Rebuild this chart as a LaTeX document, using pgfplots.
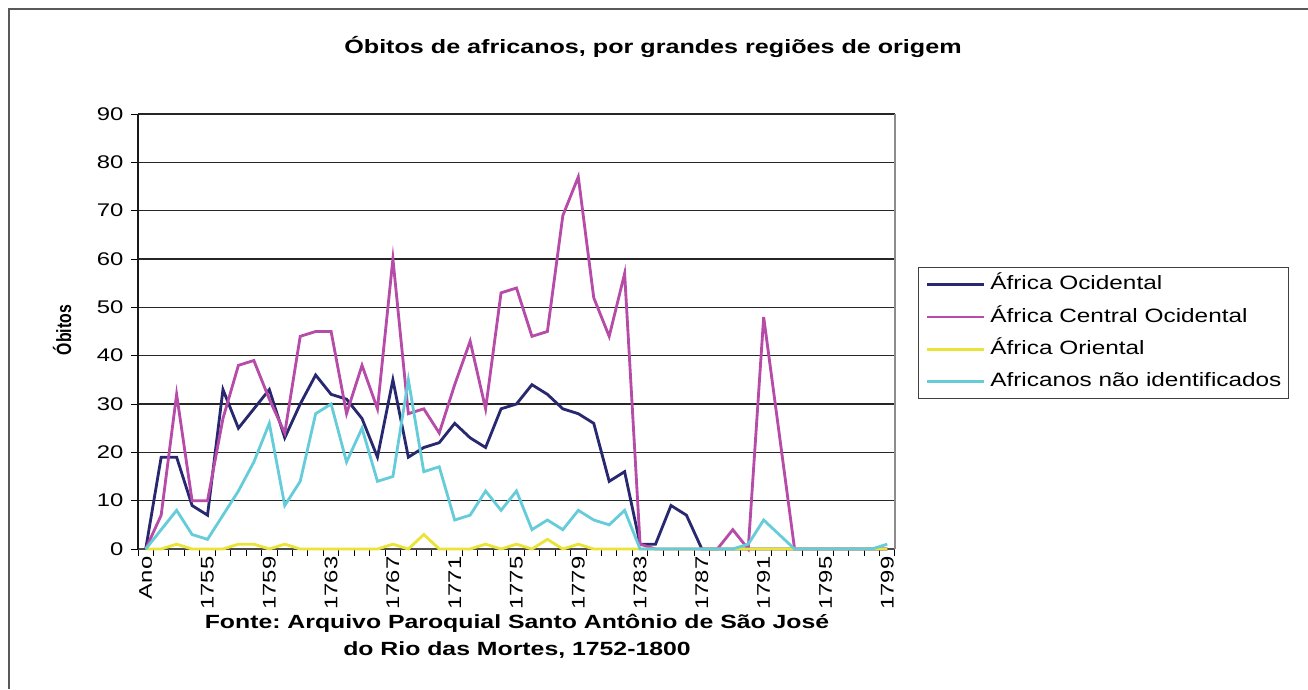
\documentclass[border=0pt]{standalone}
\usepackage{pgfplots}
\usepackage{pgfplotstable}
\pgfplotsset{compat=1.18}
\usepackage{fontspec}
\setmainfont{Liberation Sans}
\frenchspacing
\definecolor{cAO}{RGB}{40,40,112}
\definecolor{cACO}{RGB}{182,76,168}
\definecolor{cAOR}{RGB}{234,228,56}
\definecolor{cANI}{RGB}{102,204,218}
\pgfplotstableread{
i ao aco aor ani
0 0 0 0 0
1 19 7 0 4
2 19 32 1 8
3 9 10 0 3
4 7 10 0 2
5 33 27 0 7
6 25 38 1 12
7 29 39 1 18
8 33 31 0 26
9 23 24 1 9
10 30 44 0 14
11 36 45 0 28
12 32 45 0 30
13 31 28 0 18
14 27 38 0 25
15 19 29 0 14
16 35 60 1 15
17 19 28 0 35
18 21 29 3 16
19 22 24 0 17
20 26 34 0 6
21 23 43 0 7
22 21 29 1 12
23 29 53 0 8
24 30 54 1 12
25 34 44 0 4
26 32 45 2 6
27 29 69 0 4
28 28 77 1 8
29 26 52 0 6
30 14 44 0 5
31 16 57 0 8
32 1 1 0 0
33 1 0 0 0
34 9 0 0 0
35 7 0 0 0
36 0 0 0 0
37 0 0 0 0
38 0 4 0 0
39 0 0 0 1
40 0 48 0 6
41 0 24 0 3
42 0 0 0 0
43 0 0 0 0
44 0 0 0 0
45 0 0 0 0
46 0 0 0 0
47 0 0 0 0
48 0 0 0 1
}\obitos
\begin{document}
\begin{tikzpicture}
\useasboundingbox (0,0) rectangle (784.8pt,413.4pt);
\begin{axis}[
  at={(82.8pt,84pt)}, anchor=south west,
  scale only axis, width=454.2pt, height=261pt,
  xmin=-0.5, xmax=48.5, ymin=0, ymax=90,
  ytick={0,10,...,90},
  ymajorgrids, grid style={black!85, line width=0.7pt},
  xtick={-0.5,0.5,...,48.5}, xticklabels={},
  extra x ticks={0,4,...,48},
  extra x tick labels={Ano,1755,1759,1763,1767,1771,1775,1779,1783,1787,1791,1795,1799},
  extra x tick style={major tick length=0pt, grid=none},
  axis x line*=bottom, axis y line*=left,
  x axis line style={black!70, line width=1.6pt, -},
  y axis line style={black!90, line width=1.2pt, -},
  tick align=outside, major tick length=4.2pt,
  tick style={black, line width=0.6pt},
  /pgf/number format/assume math mode=true,
  yticklabel style={font=\fontsize{11}{13}\selectfont, xscale=1.3},
  xticklabel style={font=\fontsize{11}{13}\selectfont, rotate=90, xscale=1.3, anchor=east},
  legend style={at={(axis description cs:1.0304,0.648)}, anchor=north west,
    draw=black!75, line width=0.8pt, fill=white, inner xsep=4.2pt, inner ysep=4.5pt,
    row sep=8.2pt, column sep=3pt, font=\fontsize{11.6}{13}\selectfont,
    nodes={xscale=1.26, inner sep=0pt, text height=8.7pt, text depth=2.5pt, anchor=west}},
  legend cell align=left,
  legend image code/.code={\draw[#1, line width=1.6pt] (0pt,0pt) -- (34.2pt,0pt);},
  clip=false,
]
\addplot[cAO, line width=1.7pt] table[x=i, y=ao] {\obitos};
\addlegendentry{África Ocidental}
\addplot[cACO, line width=1.7pt] table[x=i, y=aco] {\obitos};
\addlegendentry{África Central Ocidental}
\addplot[cAOR, line width=1.7pt] table[x=i, y=aor] {\obitos};
\addlegendentry{África Oriental}
\addplot[cANI, line width=1.7pt] table[x=i, y=ani] {\obitos};
\addlegendentry{Africanos não identificados}
\draw[black!45, line width=1.6pt] (rel axis cs:1,0) -- (rel axis cs:1,1);
\end{axis}
\begin{scope}[x=0.6pt,y=0.6pt]
\draw[black!65, line width=1.2pt] (8.5,0) -- (8.5,680) -- (1308,680);
\node[font=\fontsize{11.6}{14}\selectfont\bfseries, xscale=1.3] at (653,642) {Óbitos de africanos, por grandes regiões de origem};
\node[font=\fontsize{11.45}{16.2}\selectfont\bfseries, xscale=1.3, align=center] at (517,53) {Fonte: Arquivo Paroquial Santo Antônio de São José\\do Rio das Mortes, 1752-1800};
\node[font=\fontsize{9.5}{11}\selectfont\bfseries, rotate=90, yscale=1.3] at (62,359) {Óbitos};
\end{scope}
\end{tikzpicture}
\end{document}
